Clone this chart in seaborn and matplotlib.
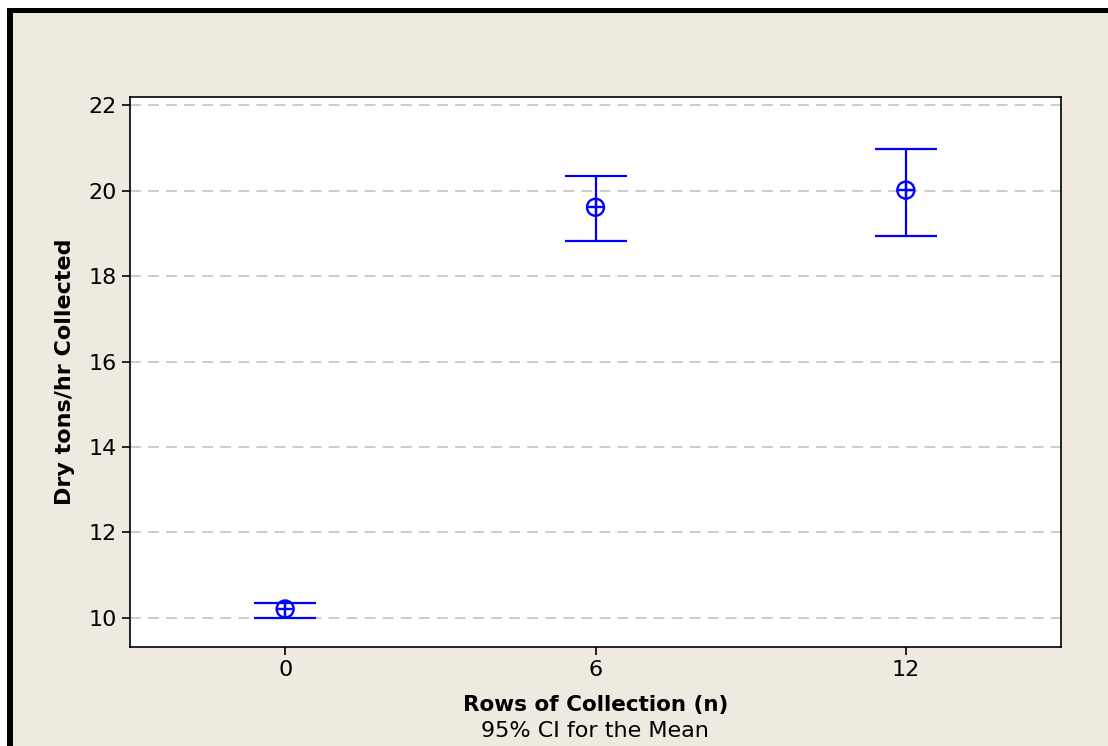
import matplotlib
matplotlib.use("Agg")
import matplotlib.pyplot as plt
from matplotlib.patches import Rectangle
import seaborn as sns
import pandas as pd

# values
rows = [0, 6, 12]
mean_tons = [10.21, 19.61, 20.01]
ci_low = [10.00, 18.82, 18.94]
ci_high = [10.35, 20.34, 20.97]
y_ticks = [10, 12, 14, 16, 18, 20, 22]

df = pd.DataFrame({"rows": rows, "mean": mean_tons, "lo": ci_low, "hi": ci_high})

BEIGE = "#eeeae0"
BLUE = "#0000ff"

sns.set_style("white")
plt.rcParams["font.family"] = ["DejaVu Sans"]
plt.rcParams["text.color"] = "black"
plt.rcParams["axes.labelcolor"] = "black"

fig = plt.figure(figsize=(11.08, 7.46), dpi=100, facecolor="white")
# beige panel with heavy black frame on top and left
fig.patches.append(Rectangle((7 / 1108, 0), 1.0, 1 - 8 / 746, transform=fig.transFigure,
                             facecolor=BEIGE, edgecolor="none", zorder=-2))
fig.patches.append(Rectangle((7 / 1108, 0), 6 / 1108, 1 - 8 / 746, transform=fig.transFigure,
                             facecolor="black", edgecolor="none", zorder=-1))
fig.patches.append(Rectangle((7 / 1108, 1 - 13 / 746), 1.0, 5 / 746, transform=fig.transFigure,
                             facecolor="black", edgecolor="none", zorder=-1))

ax = fig.add_axes([130 / 1108, 99 / 746, 931 / 1108, 550 / 746])
ax.set_zorder(2)
ax.set_facecolor("white")

# confidence intervals
ax.errorbar(df["rows"], df["mean"],
            yerr=[df["mean"] - df["lo"], df["hi"] - df["mean"]],
            fmt="none", ecolor=BLUE, elinewidth=1.6, capsize=22, capthick=1.6, zorder=3)

# mean markers: circle with crosshair
sns.scatterplot(data=df, x="rows", y="mean", ax=ax, marker="o", s=150,
                facecolors="none", edgecolor=BLUE, linewidth=1.7, zorder=4, legend=False)
sns.scatterplot(data=df, x="rows", y="mean", ax=ax, marker="+", s=150,
                color=BLUE, linewidth=1.7, zorder=4, legend=False)

ax.set_xlim(-3, 15)
ax.set_ylim(9.32, 22.19)
ax.set_xticks(rows)
ax.set_xticklabels([str(r) for r in rows])
ax.set_yticks(y_ticks)
ax.yaxis.grid(True, color="#c8c8c8", linestyle=(0, (6, 4)), linewidth=1.3)
ax.xaxis.grid(False)
ax.set_axisbelow(True)

for s in ax.spines.values():
    s.set_visible(True)
    s.set_color("black")
    s.set_linewidth(1.2)

ax.tick_params(axis="both", which="major", direction="out", length=6, width=1.2,
               color="black", labelsize=16, labelcolor="black", left=True, bottom=True)

ax.set_ylabel("Dry tons/hr Collected", fontsize=16, fontweight="bold", labelpad=10)
ax.set_xlabel("Rows of Collection (n)", fontsize=15.5, fontweight="bold", labelpad=11)
fig.text(595 / 1108, 1 - 731 / 746, "95% CI for the Mean", ha="center", va="center", fontsize=16)

fig.savefig("out.png", dpi=100, facecolor=fig.get_facecolor())
